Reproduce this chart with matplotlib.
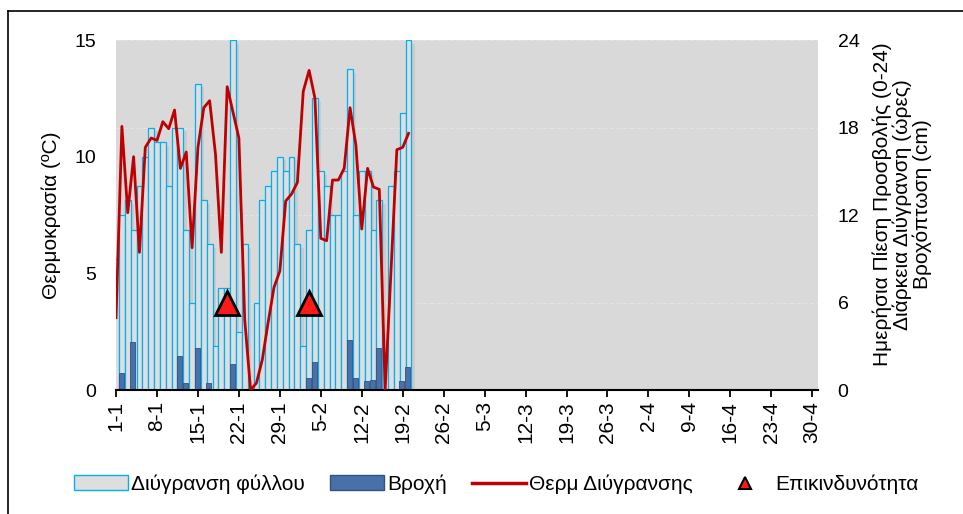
import numpy as np
import matplotlib.pyplot as plt
from matplotlib.patches import Patch
from matplotlib.lines import Line2D

plt.rcParams["font.family"] = ["Liberation Sans", "DejaVu Sans"]
plt.rcParams["font.size"] = 15

# ---------------------------------------------------------------------------
# Data (day index 0 = 1-1)
# ---------------------------------------------------------------------------
days = np.arange(51)

# leaf wetness duration (hours)
wetness = [9, 12, 13, 11, 14, 16, 18, 17, 17, 14, 18, 18, 11, 6, 21, 13, 10,
           3, 7, 7, 24, 4, 10, 0, 6, 13, 14, 15, 16, 15, 16, 10, 3, 11, 20,
           15, 14, 12, 12, 15, 22, 12, 15, 15, 11, 13, 0, 14, 15, 19, 24]

# rainfall (cm), only the days with rain
rain_days = [1, 3, 11, 12, 14, 16, 20, 33, 34, 40, 41, 43, 44, 45, 49, 50]
rain_vals = [1.2, 3.3, 2.3, 0.5, 2.9, 0.5, 1.8, 0.8, 1.9, 3.4, 0.8, 0.6, 0.7,
             2.9, 0.6, 1.6]

# temperature during wetness (C)
temp = [3.1, 11.3, 7.6, 10.0, 5.9, 10.4, 10.8, 10.7, 11.5, 11.2, 12.0, 9.5,
        10.2, 6.1, 10.4, 12.1, 12.4, 10.1, 5.9, 13.0, 11.9, 10.8, 3.0, 0.0,
        0.3, 1.3, 2.9, 4.4, 5.1, 8.1, 8.4, 8.9, 12.8, 13.7, 12.5, 6.5, 6.4,
        9.0, 9.0, 9.5, 12.1, 10.5, 6.9, 9.5, 8.7, 8.6, 0.0, 5.1, 10.3, 10.4,
        11.0]

# risk markers (right-axis value)
risk_days = [19, 33]
risk_vals = [6, 6]

tick_pos = np.arange(0, 120, 7)
tick_labels = ["1-1", "8-1", "15-1", "22-1", "29-1", "5-2", "12-2", "19-2",
               "26-2", "5-3", "12-3", "19-3", "26-3", "2-4", "9-4", "16-4",
               "23-4", "30-4"]

# ---------------------------------------------------------------------------
# Figure
# ---------------------------------------------------------------------------
fig = plt.figure(figsize=(9.63, 5.14), dpi=100)
ax = fig.add_axes([0.1205, 0.2412, 0.7290, 0.6809])
ax2 = ax.twinx()

# bars on the right (hours) axis, line on the left axis drawn on top
ax.set_zorder(ax2.get_zorder() + 1)
ax.patch.set_visible(False)
ax2.patch.set_visible(True)
ax2.patch.set_facecolor("#d9d9d9")
ax2.set_axisbelow(True)
ax2.grid(axis="y", color="#e3e3e3", linewidth=0.8, linestyle=(0, (4, 2)))

# soft shadow of the wetness bars
ax2.bar(days + 0.6, np.array(wetness) - 0.25, width=1.0, color="#cbcbcb",
        linewidth=0, zorder=1)
ax2.bar(days, wetness, width=1.0, color="#dedede", edgecolor="#00b0f0",
        linewidth=0.9, zorder=2)
ax2.bar(np.array(rain_days) - 0.15, rain_vals, width=0.85, color="#4a70a8",
        edgecolor="#2f5288", linewidth=0.6, zorder=3)
ax2.plot(risk_days, risk_vals, linestyle="none", marker="^", markersize=17,
         markerfacecolor="#ff1a1a", markeredgecolor="black",
         markeredgewidth=2.0, zorder=5)

ax.plot(days, temp, color="#c00000", linewidth=2.0, zorder=4)

ax.set_xlim(0, 120)
ax.set_ylim(0, 15)
ax2.set_ylim(0, 24)
ax.set_yticks([0, 5, 10, 15])
ax2.set_yticks([0, 6, 12, 18, 24])
ax.set_xticks(tick_pos)
ax.set_xticklabels(tick_labels, rotation=90)

for a in (ax, ax2):
    for s in ("top", "left", "right"):
        a.spines[s].set_visible(False)
ax2.spines["bottom"].set_visible(False)
ax.spines["bottom"].set_linewidth(1.5)

ax.tick_params(axis="y", length=0, pad=14, labelsize=14)
ax2.tick_params(axis="y", length=0, pad=14, labelsize=14)
ax.tick_params(axis="x", length=5, width=1.3, pad=3, labelsize=15)

ax.set_ylabel("Θερμοκρασία (ºC)", labelpad=10)
ax2.text(1.12, 0.53,
         "Ημερήσια Πίεση Προσβολής (0-24)\nΔιάρκεια Διύγρανση (ώρες)\nΒροχόπτωση (cm)",
         transform=ax.transAxes, rotation=90, ha="center", va="center",
         multialignment="center", linespacing=1.05)

handles = [
    Patch(facecolor="#dedede", edgecolor="#00b0f0", linewidth=1.0),
    Patch(facecolor="#4a70a8", edgecolor="#2f5288"),
    Line2D([], [], color="#c00000", linewidth=2.5),
    Line2D([], [], linestyle="none", marker="^", markersize=8,
           markerfacecolor="#ff1a1a", markeredgecolor="black",
           markeredgewidth=1.5),
]
labels = ["Διύγρανση φύλλου", "Βροχή", "Θερμ Διύγρανσης", "Επικινδυνότητα"]
fig.legend(handles, labels, loc="center", bbox_to_anchor=(0.515, 0.058),
           ncol=4, frameon=False, handlelength=2.6, handletextpad=0.15,
           columnspacing=1.2)

# outer chart frame (only left and top visible)
fig.add_artist(Line2D([0.0083, 0.0083], [0.0, 0.9786], color="black",
                      linewidth=1.2, transform=fig.transFigure))
fig.add_artist(Line2D([0.0083, 1.0], [0.9786, 0.9786], color="black",
                      linewidth=1.2, transform=fig.transFigure))

fig.savefig("out.png", dpi=100)
